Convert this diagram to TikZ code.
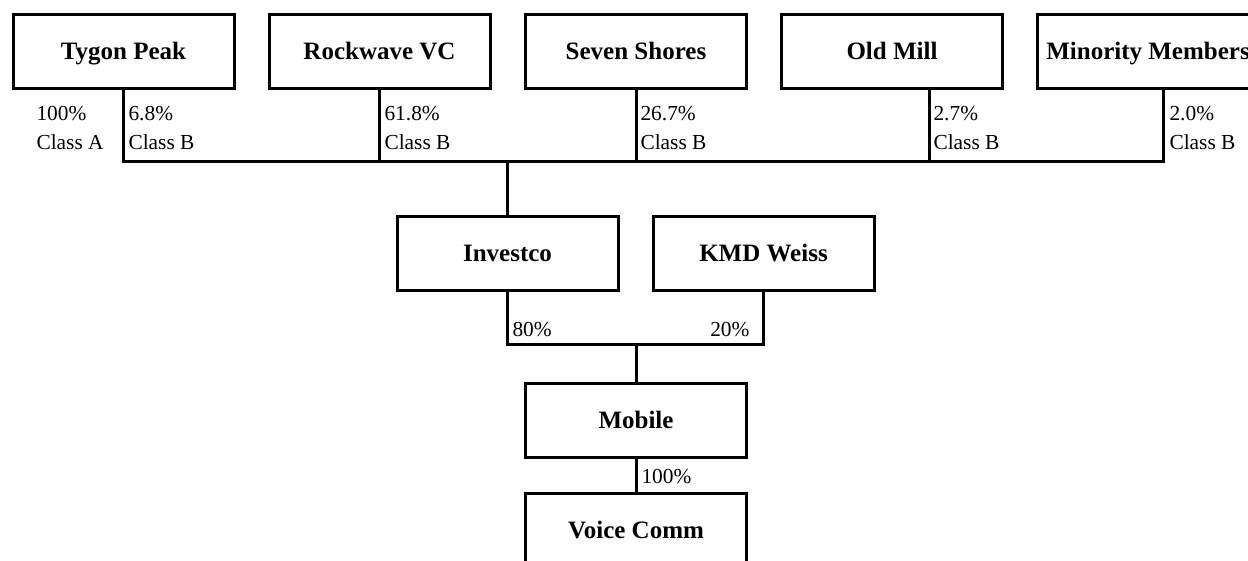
\documentclass[tikz,border=0pt]{standalone}
\usepackage{fontspec}
\setmainfont{Liberation Serif}
\tikzset{
	entity/.style={draw,line width=1.5pt,minimum width=110.5pt,minimum height=37pt,inner sep=0pt,text height=9.5pt,text depth=1.5pt,font=\fontsize{12.5}{15}\selectfont\bfseries},
	share/.style={inner sep=0pt,align=left,font=\fontsize{10.7}{14.5}\selectfont},
}
\begin{document}
\begin{tikzpicture}[x=0.5pt,y=-0.5pt,line width=1.5pt]
				\useasboundingbox (0,0) rectangle (1248,561);
				\clip (0,0) rectangle (1248,561);
				% owners
				\node[entity] (tygon) at (123.5,52) {Tygon Peak};
				\node[entity] (rockwave) at (379.5,52) {Rockwave VC};
				\node[entity] (seven) at (636,52) {Seven Shores};
				\node[entity] (oldmill) at (892,52) {Old Mill};
				\node[entity] (minority) at (1148,52) {Minority Members};
				% holdings
				\node[entity] (investco) at (507.5,254) {Investco};
				\node[entity] (kmd) at (763.5,254) {KMD Weiss};
				\node[entity] (mobile) at (636,420) {Mobile};
				\node[entity] (voice) at (636,530) {Voice Comm};
				\path (1163,162) coordinate (busR)
				(636,345) coordinate (join)
				;
				% connectors
				\draw (tygon.south) |- (busR) -- ([xshift=7.5pt]minority.south);
				\foreach \x in {rockwave,seven}{\draw (\x.south) -- (\x.south |- busR);}
				\draw ([xshift=18.5pt]oldmill.south) -- ([xshift=18.5pt]oldmill.south |- busR);
				\draw (investco.north) -- (investco.north |- busR);
				\draw (investco.south) |- (join) -| (kmd.south);
				\draw (join) -- (mobile.north);
				\draw (mobile.south) -- (voice.north);
				% shares
				\node[share,anchor=north west] (tygonA) at (35,105) {100\%\\Class A};
				\node[share,anchor=north west] (tygonB) at (127,105) {6.8\%\\Class B};
				\node[share,anchor=north west] (rockwaveB) at (383,105) {61.8\%\\Class B};
				\node[share,anchor=north west] (sevenB) at (639,105) {26.7\%\\Class B};
				\node[share,anchor=north west] (oldmillB) at (932,105) {2.7\%\\Class B};
				\node[share,anchor=north west] (minorityB) at (1168,105) {2.0\%\\Class B};
				\node[share,anchor=base west] (investcoS) at (511,336) {80\%};
				\node[share,anchor=base east] (kmdS) at (751,336) {20\%};
				\node[share,anchor=base west] (mobileS) at (640,483) {100\%};
\end{tikzpicture}
\end{document}
